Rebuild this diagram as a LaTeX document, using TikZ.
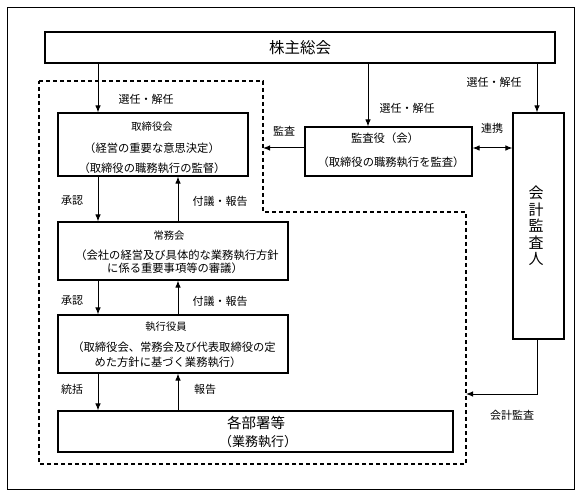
\documentclass[tikz,border=0pt]{standalone}
\usepackage{fontspec}
\setmainfont{Noto Sans CJK JP}
\usetikzlibrary{arrows.meta}
\tikzset{
  box/.style={draw, line width=1.1pt, minimum width=#1, inner sep=0pt},
  lbl/.style={inner sep=0pt, font=\fontsize{11}{12}\selectfont},
  ttl/.style={inner sep=0pt, font=\fontsize{10.3}{12}\selectfont},
  dsc/.style={inner sep=0pt, font=\fontsize{11.3}{13}\selectfont},
  arr/.style={line width=1pt, -{Latex[length=7pt,width=5.5pt]}},
  darr/.style={line width=1pt, {Latex[length=7pt,width=5.5pt]}-{Latex[length=7pt,width=5.5pt]}},
  dashline/.style={line width=1.1pt, dash pattern=on 4pt off 3pt}
}
\begin{document}
\begin{tikzpicture}[x=1pt,y=-1pt]
\useasboundingbox (0,0) rectangle (581,497);
% outer frame
\draw[line width=0.9pt] (7,7) rectangle (574,489);
% dashed region
\coordinate (dA) at (263,148);
\coordinate (dB) at (466,394);
\draw[dashline] (39,81) -- (263,81) -- (263,212) -- (466,212) -- (466,464) -- (39,464) -- cycle;
% boxes
\node[box=510pt, minimum height=31pt] (sh) at (300,47.5) {};
\node[box=190pt, minimum height=63pt] (tb) at (153,144.5) {};
\node[box=230pt, minimum height=58pt] (jm) at (173,251) {};
\node[box=230pt, minimum height=58pt] (sy) at (173,344) {};
\node[box=395pt, minimum height=41pt] (kb) at (255.5,431.5) {};
\node[box=167pt, minimum height=49pt] (ka) at (388.5,151.5) {};
\node[box=51pt, minimum height=226pt] (kk) at (538.5,226) {};
% texts in boxes
\node[inner sep=0pt, font=\fontsize{15.5}{18}\selectfont] (tsh) at (300,48) {株主総会};
\node[ttl] (ttb1) at (152,127) {取締役会};
\node[dsc] (ttb2) at (152,148) {（経営の重要な意思決定）};
\node[dsc] (ttb3) at (152,168) {（取締役の職務執行の監督）};
\node[ttl] (tjm1) at (169,236) {常務会};
\node[dsc] (tjm2) at (177,255) {（会社の経営及び具体的な業務執行方針};
\node[dsc] (tjm3) at (175,268.5) {に係る重要事項等の審議）};
\node[ttl] (tsy1) at (166,327) {執行役員};
\node[dsc] (tsy2) at (174,347) {（取締役会、常務会及び代表取締役の定};
\node[dsc] (tsy3) at (168,362) {めた方針に基づく業務執行）};
\node[inner sep=0pt, font=\fontsize{14.5}{17}\selectfont] (tkb1) at (256,423) {各部署等};
\node[inner sep=0pt, font=\fontsize{13}{15}\selectfont] (tkb2) at (258,442) {（業務執行）};
\node[dsc] (tka1) at (385,138) {監査役（会）};
\node[dsc] (tka2) at (391,162) {（取締役の職務執行を監査）};
\node[inner sep=0pt, align=center, font=\fontsize{15}{16.5}\selectfont] (tkk) at (536,226) {会\\計\\監\\査\\人};
% x positions
\coordinate (xL) at (98,0);
\coordinate (xR) at (178,0);
\coordinate (xK) at (368,0);
\coordinate (xA) at (537,0);
% arrows
\draw[arr] (sh.south -| xL) -- (tb.north -| xL);
\draw[arr] (tb.south -| xL) -- (jm.north -| xL);
\draw[arr] (jm.north -| xR) -- (tb.south -| xR);
\draw[arr] (jm.south -| xL) -- (sy.north -| xL);
\draw[arr] (sy.north -| xR) -- (jm.south -| xR);
\draw[arr] (sy.south -| xL) -- (kb.north -| xL);
\draw[arr] (kb.north -| xR) -- (sy.south -| xR);
\draw[arr] (sh.south -| xK) -- (ka.north -| xK);
\draw[arr] (sh.south -| xA) -- (kk.north -| xA);
\draw[arr] (ka.west |- dA) -- (dA);
\draw[darr] (ka.east |- dA) -- (kk.west |- dA);
\draw[arr] (kk.south -| xA) |- (dB);
% labels
\node[lbl] (l1) at (146,99) {選任・解任};
\node[lbl] (l2) at (72,201) {承認};
\node[lbl] (l3) at (220,201) {付議・報告};
\node[lbl] (l4) at (72,301) {承認};
\node[lbl] (l5) at (220,301) {付議・報告};
\node[lbl] (l6) at (72,389) {統括};
\node[lbl] (l7) at (205,389) {報告};
\node[lbl] (l8) at (407,108) {選任・解任};
\node[lbl] (l9) at (284,131) {監査};
\node[lbl] (l10) at (492,128) {連携};
\node[lbl] (l11) at (494,82) {選任・解任};
\node[lbl] (l12) at (512,415) {会計監査};
\end{tikzpicture}
\end{document}
